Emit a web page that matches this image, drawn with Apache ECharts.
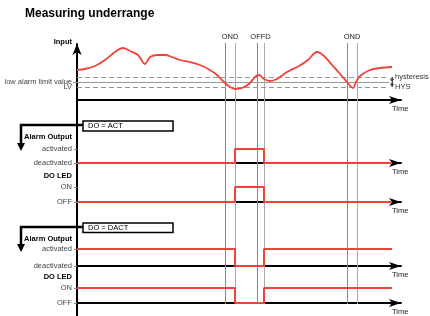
<!DOCTYPE html>
<html style="height: 100%">
<head>
    <meta charset="utf-8">
</head>
<body style="height: 100%; margin: 0">
<div id="container" style="width: 430px; height: 316px"></div>
<script type="text/javascript" src="https://cdn.jsdelivr.net/npm/echarts@6/dist/echarts.min.js"></script>
<script type="text/javascript">
// input curve (time, value)
var curveTime  = [0, 8, 18, 28, 38, 46, 53, 61, 68, 73, 81, 88, 95, 103, 113, 123, 133, 140, 147, 153, 158, 165, 172, 178, 182, 187, 193, 200, 210, 222, 231, 240, 247, 256, 264, 270, 276, 279, 283, 293, 303, 315];
var curveInput = [30, 31, 34, 40, 48, 52, 49, 45, 36, 43, 45, 45, 43, 40, 38, 35, 30, 25, 18, 13, 11, 12, 16, 23, 25, 21, 19, 21, 28, 34, 40, 48, 44, 34, 25, 18, 12, 18, 24, 30, 32, 33];
var limitLevels = [23, 18, 13];            // hysteresis, low alarm limit value, LV
var limitEnd = 312;
var eventTimes = [148, 158, 180, 187, 270, 280];
var eventLabels = ['OND', 'OFFD', 'OND'];
var eventLabelTimes = [153, 183.5, 275];
var stepTime = [0, 158, 158, 187, 187, 315];
var actLevel = [0, 0, 1, 1, 0, 0];
var dactLevel = [1, 1, 0, 0, 1, 1];
var alarmLabels = ['deactivated', 'activated'];
var ledLabels = ['OFF', 'ON'];

var RED = '#f2433a';
var FONT = 'Liberation Sans';
var FS = 7.5;

var dom = document.getElementById('container');
var myChart = echarts.init(dom);

function pairs(xs, ys) {
    return xs.map(function (x, i) { return [x, ys[i]]; });
}

function timeAxis(gridIndex, show) {
    return {
        type: 'value', gridIndex: gridIndex, min: 0, max: 324, show: show,
        name: 'Time', nameLocation: 'end', nameGap: -9,
        nameTextStyle: {fontSize: FS, color: '#222', fontFamily: FONT, align: 'left', verticalAlign: 'top', padding: [5, 0, 0, 0]},
        axisLine: {show: true, onZero: false, symbol: ['none', 'arrow'], symbolSize: [6, 12], lineStyle: {color: '#000', width: 2}},
        axisTick: {show: false}, axisLabel: {show: false}, splitLine: {show: false}
    };
}

function levelAxis(gridIndex, labels, title, gap) {
    return {
        type: 'value', gridIndex: gridIndex, min: 0, max: 1, interval: 1,
        name: title, nameLocation: 'end', nameGap: gap,
        nameTextStyle: {fontSize: FS, fontWeight: 'bold', color: '#000', fontFamily: FONT, align: 'right', verticalAlign: 'middle', padding: [0, 5, 0, 0]},
        axisLine: {show: false},
        axisTick: {show: true, length: 3, lineStyle: {color: '#888'}},
        axisLabel: {fontSize: FS, color: '#444', fontFamily: FONT, margin: 5, formatter: function (v) { return labels[v]; }},
        splitLine: {show: false}
    };
}

function stepSeries(gridIndex, levels) {
    return {
        type: 'line', xAxisIndex: gridIndex, yAxisIndex: gridIndex, z: 5,
        data: pairs(stepTime, levels), symbol: 'none', animation: false,
        lineStyle: {color: RED, width: 2}
    };
}

var limitLines = limitLevels.map(function (v, i) {
    return [
        {coord: [0, v], lineStyle: {type: i === 1 ? 'solid' : [5, 3], color: '#999', width: 1},
         label: {show: i !== 1, formatter: i === 0 ? 'hysteresis' : 'HYS', position: 'end', distance: 6, fontSize: FS, color: '#333', fontFamily: FONT}},
        {coord: [limitEnd, v]}
    ];
});
var hysArrows = [[0, 1], [1, 2]].map(function (p) {
    return [
        {coord: [limitEnd + 3, limitLevels[p[0]]], symbol: 'arrow', symbolSize: [3, 3], lineStyle: {color: '#333', width: 0.8, type: 'solid'}, label: {show: false}},
        {coord: [limitEnd + 3, limitLevels[p[1]]], symbol: 'arrow', symbolSize: [3, 3]}
    ];
});

var eventLines = eventTimes.map(function (t, i) {
    return {xAxis: t, lineStyle: {color: i % 2 ? '#aaa' : '#888', width: 1, type: 'solid'}, label: {show: false}};
}).concat(eventLabelTimes.map(function (t, i) {
    return {xAxis: t, lineStyle: {color: 'rgba(0,0,0,0)', width: 0},
            label: {show: true, formatter: eventLabels[i], position: 'end', distance: 2, fontSize: FS, color: '#222', fontFamily: FONT}};
}));

var option = {
    animation: false,
    backgroundColor: '#fff',
    title: {
        text: 'Measuring underrange', left: 25, top: 8, padding: 0,
        textStyle: {fontSize: 12, fontWeight: 'bold', color: '#000', fontFamily: FONT}
    },
    grid: [
        {left: 77, top: 44, width: 324, height: 272},   // frame: main vertical axis
        {left: 77, top: 45, width: 324, height: 55},    // input
        {left: 77, top: 149, width: 324, height: 14},   // alarm output, DO = ACT
        {left: 77, top: 187, width: 324, height: 15},   // DO LED, DO = ACT
        {left: 77, top: 249, width: 324, height: 17},   // alarm output, DO = DACT
        {left: 77, top: 288, width: 324, height: 16},   // DO LED, DO = DACT
        {left: 77, top: 43, width: 324, height: 261}    // event lines
    ],
    xAxis: [
        timeAxis(0, false), timeAxis(1, true), timeAxis(2, true), timeAxis(3, true),
        timeAxis(4, true), timeAxis(5, true), timeAxis(6, false)
    ],
    yAxis: [
        {
            type: 'value', gridIndex: 0, min: 0, max: 1,
            axisLine: {show: true, symbol: ['none', 'arrow'], symbolSize: [7, 11], lineStyle: {color: '#000', width: 2}},
            axisTick: {show: false}, axisLabel: {show: false}, splitLine: {show: false}
        },
        {
            type: 'value', gridIndex: 1, min: 0, max: 55,
            name: 'Input', nameLocation: 'end', nameGap: 3,
            nameTextStyle: {fontSize: FS, fontWeight: 'bold', color: '#000', fontFamily: FONT, align: 'right', verticalAlign: 'middle', padding: [0, 5, 0, 0]},
            axisLine: {show: false},
            axisTick: {show: true, length: 4, customValues: [limitLevels[1]], lineStyle: {color: '#888'}},
            axisLabel: {
                fontSize: FS, color: '#444', fontFamily: FONT, margin: 5, hideOverlap: false,
                customValues: [limitLevels[1]],
                formatter: function () { return 'low alarm limit value'; }
            },
            splitLine: {show: false}
        },
        levelAxis(2, alarmLabels, 'Alarm Output', 12),
        levelAxis(3, ledLabels, 'DO LED', 11),
        levelAxis(4, alarmLabels, 'Alarm Output', 10),
        levelAxis(5, ledLabels, 'DO LED', 11),
        {type: 'value', gridIndex: 6, min: 0, max: 1, show: false},
        {
            type: 'value', gridIndex: 1, min: 0, max: 55, position: 'left',
            axisLine: {show: false}, axisTick: {show: false}, splitLine: {show: false},
            axisLabel: {
                fontSize: FS, color: '#444', fontFamily: FONT, margin: 5, padding: [8, 0, 0, 0],
                customValues: [limitLevels[2]],
                formatter: function () { return 'LV'; }
            }
        }
    ],
    series: [
        {
            type: 'line', xAxisIndex: 6, yAxisIndex: 6, data: [], z: 1,
            markLine: {silent: true, symbol: 'none', animation: false, data: eventLines}
        },
        {
            type: 'line', xAxisIndex: 1, yAxisIndex: 1, data: [], z: 2,
            markLine: {silent: true, symbol: 'none', animation: false, data: limitLines.concat(hysArrows)}
        },
        {
            type: 'line', xAxisIndex: 1, yAxisIndex: 1, z: 5,
            data: pairs(curveTime, curveInput), smooth: 0.35, symbol: 'none',
            lineStyle: {color: RED, width: 1.8}
        },
        stepSeries(2, actLevel),
        stepSeries(3, actLevel),
        stepSeries(4, dactLevel),
        stepSeries(5, dactLevel)
    ],
    graphic: [
        {type: 'polyline', shape: {points: [[83, 125], [21, 125], [21, 144]]}, style: {stroke: '#000', lineWidth: 2.5, fill: null}, z: 10},
        {type: 'polygon', shape: {points: [[17, 143], [25, 143], [21, 151]]}, style: {fill: '#000'}, z: 10},
        {type: 'rect', shape: {x: 83, y: 121, width: 90, height: 10}, style: {fill: '#fff', stroke: '#000', lineWidth: 1.5}, z: 11},
        {type: 'text', x: 88, y: 126, style: {text: 'DO = ACT', fontSize: FS, fill: '#000', fontFamily: FONT, verticalAlign: 'middle'}, z: 12},
        {type: 'polyline', shape: {points: [[83, 227], [21, 227], [21, 245]]}, style: {stroke: '#000', lineWidth: 2.5, fill: null}, z: 10},
        {type: 'polygon', shape: {points: [[17, 244], [25, 244], [21, 252]]}, style: {fill: '#000'}, z: 10},
        {type: 'rect', shape: {x: 83, y: 223, width: 90, height: 9.5}, style: {fill: '#fff', stroke: '#000', lineWidth: 1.5}, z: 11},
        {type: 'text', x: 88, y: 228, style: {text: 'DO = DACT', fontSize: FS, fill: '#000', fontFamily: FONT, verticalAlign: 'middle'}, z: 12}
    ]
};

myChart.setOption(option);
</script>
</body>
</html>
